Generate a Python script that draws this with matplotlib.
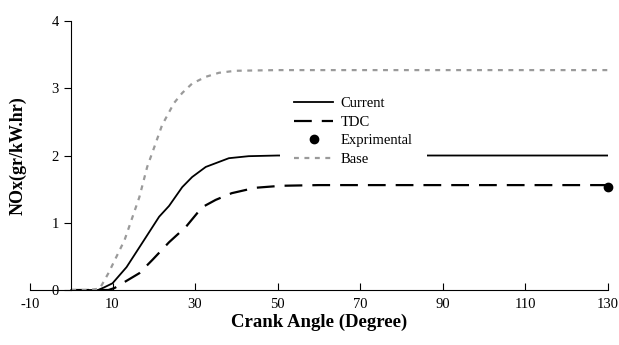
import matplotlib
matplotlib.use("Agg")
import matplotlib.pyplot as plt

# --- DATA ---
current_x = [0, 4, 6.5, 8, 10, 13.4, 17.2, 21.3, 23.7, 26.9, 29.3, 32.6, 38.2, 43, 50, 90, 130]
current_y = [0, 0, 0, 0.04, 0.1, 0.34, 0.7, 1.09, 1.25, 1.53, 1.68, 1.83, 1.96, 1.99, 2.0, 2.0, 2.0]

tdc_x = [0, 5, 9, 10.5, 12.4, 16.5, 19.7, 23.7, 27.8, 31.7, 35, 38.9, 44.6, 50.9, 60, 130]
tdc_y = [0, 0, 0, 0.03, 0.1, 0.25, 0.45, 0.71, 0.94, 1.23, 1.34, 1.44, 1.52, 1.55, 1.56, 1.56]

base_x = [0, 4, 6.9, 9, 12.9, 16.5, 18.4, 20.1, 22, 24.9, 26.9, 29.3, 32.6, 35.8, 39.8, 50, 130]
base_y = [0, 0, 0.02, 0.25, 0.74, 1.38, 1.83, 2.12, 2.45, 2.78, 2.93, 3.07, 3.17, 3.23, 3.26, 3.27, 3.27]

exp_x = [130]
exp_y = [1.53]

x_ticks = [-10, 10, 30, 50, 70, 90, 110, 130]
y_ticks = [0, 1, 2, 3, 4]

plt.rcParams['font.family'] = ['Liberation Serif', 'DejaVu Serif']
plt.rcParams['axes.unicode_minus'] = False

fig = plt.figure(figsize=(6.19, 3.45), dpi=100)
ax = fig.add_axes([0.0485, 0.1594, 0.933, 0.7797])

ax.plot(current_x, current_y, color='black', lw=1.3, label='Current')
ax.plot(tdc_x, tdc_y, color='black', lw=1.6, dashes=(8, 4.5), label='TDC')
ax.plot(exp_x, exp_y, 'o', color='black', ms=6, label='Exprimental', clip_on=False)
ax.plot(base_x, base_y, color='#9a9a9a', lw=1.6, dashes=(2.2, 2.5), label='Base')

ax.set_xlim(-10, 130)
ax.set_ylim(0, 4)
ax.set_xticks(x_ticks)
ax.set_yticks(y_ticks)

ax.spines['top'].set_visible(False)
ax.spines['right'].set_visible(False)
ax.spines['left'].set_position(('data', 0))

ax.tick_params(axis='x', direction='in', length=5, labelsize=10.5, pad=6)
ax.tick_params(axis='y', direction='out', length=5, labelsize=10.5, pad=4)

ax.set_xlabel("Crank Angle (Degree)", fontsize=13.5, fontweight='bold', labelpad=2)
ax.set_ylabel("NOx(gr/kW.hr)", fontsize=13, fontweight='bold')
ax.yaxis.set_label_coords(-0.006, 0.5)

leg = ax.legend(loc='upper left', bbox_to_anchor=(0.432, 0.773), frameon=True,
                fontsize=10.5, handlelength=2.7, handletextpad=0.5,
                labelspacing=0.38, borderpad=1.0, borderaxespad=0)
leg.get_frame().set_facecolor('white')
leg.get_frame().set_edgecolor('none')
leg.get_frame().set_alpha(1)

plt.savefig("out.png", dpi=100)
